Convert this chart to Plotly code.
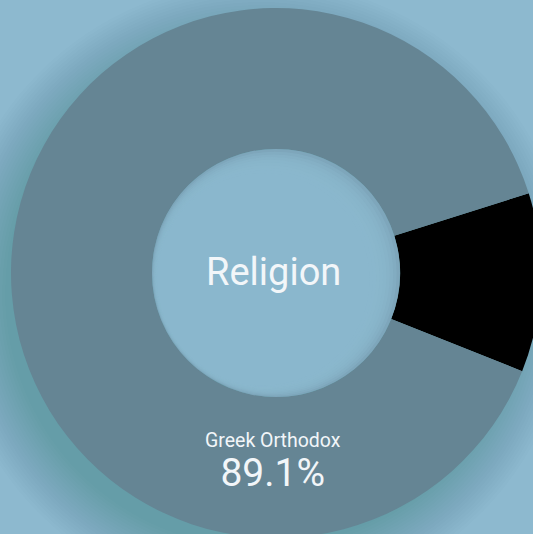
import plotly.graph_objects as go

labels = ["Other", "Greek Orthodox"]
values = [10.9, 89.1]
colors = ["#000000", "#658594"]
center_title = "Religion"
main_label = "Greek Orthodox"
main_value = "89.1%"

# chart is larger than the 533x534 view and cropped at right/bottom, as in the reference
L, T = 11, 8
D = 530
W, H = L + D, T + D
BG = "#8db9cf"

def px_to_paper(x, y):
    return (x - L) / D, 1 - (y - T) / D

cx, cy = L + D / 2, T + D / 2
R = D / 2
hole = 0.468
r_in = R * hole

def circ(x, y, r, layer, fill, line=None):
    x0, y0 = px_to_paper(x - r, y - r)
    x1, y1 = px_to_paper(x + r, y + r)
    return dict(type="circle", xref="paper", yref="paper", layer=layer,
                x0=x0, x1=x1, y0=y1, y1=y0, fillcolor=fill,
                line=line or dict(width=0))

shapes = []
# outer drop shadow (soft, offset down-left)
for i in range(20):
    rr = R - 10 + i * 3
    shapes.append(circ(cx - 16, cy + 20, rr, "below", "rgba(40,60,80,0.012)"))
# hole fill with soft inner shadow (darker toward upper-right edge)
shapes.append(circ(cx, cy, r_in, "above", "#7ea6bb"))
for i in range(1, 10):
    s = 2.0
    rr = r_in - i * s
    shapes.append(circ(cx - i * s * 0.7, cy + i * s * 0.35, rr, "above", "rgba(141,185,207,0.33)"))

fig = go.Figure(go.Pie(
    labels=labels, values=values, hole=hole, sort=False,
    direction="clockwise", rotation=72.5,
    marker=dict(colors=colors, line=dict(width=0)),
    textinfo="none", hoverinfo="label+percent", showlegend=False,
))

def ann(text, x, y, size, yanchor="middle"):
    px, py = px_to_paper(x, y)
    return dict(text=text, x=px, y=py, xref="paper", yref="paper", showarrow=False,
                xanchor="center", yanchor=yanchor,
                font=dict(family="Roboto, sans-serif", size=size, color="#f2f6f9"))

label_text = (f"<span style='font-size:19.5px'>{main_label}</span><br>"
              f"<span style='font-size:39px'>{main_value}</span>")

fig.update_layout(
    width=W, height=H,
    margin=dict(l=L, r=0, t=T, b=0, autoexpand=False),
    paper_bgcolor=BG, plot_bgcolor=BG,
    shapes=shapes,
    annotations=[
        ann(center_title, 273, 272, 38),
        ann(label_text, 273, 462, 30),
    ],
)
fig.write_html("out.html")
